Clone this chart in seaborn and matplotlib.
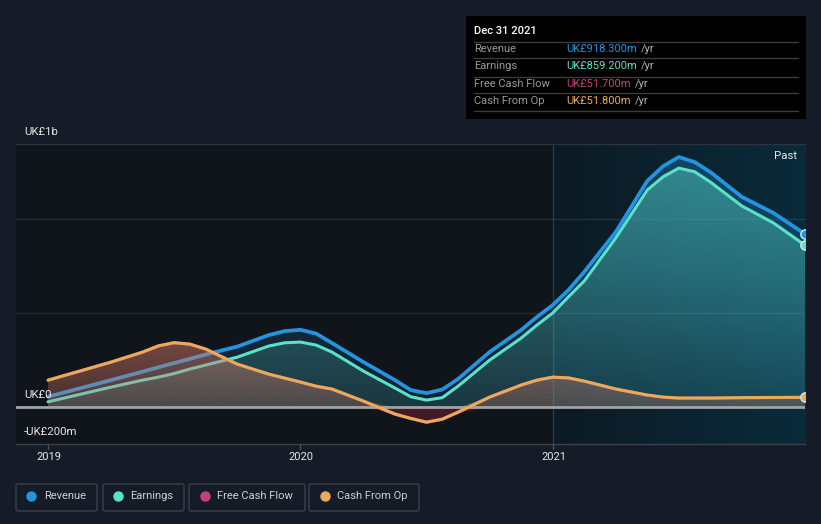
import numpy as np
import pandas as pd
import matplotlib
matplotlib.use("Agg")
import matplotlib.pyplot as plt
import seaborn as sns
from matplotlib.patches import Rectangle, FancyBboxPatch
from matplotlib.lines import Line2D
from matplotlib.transforms import IdentityTransform
from matplotlib.colors import to_rgb

# ---------------- data (UK£ m) ----------------
dates = [2019.0, 2019.125, 2019.25, 2019.375, 2019.4375, 2019.5, 2019.5625, 2019.625,
         2019.75, 2019.875, 2019.9375, 2020.0, 2020.0625, 2020.125, 2020.25, 2020.375,
         2020.4375, 2020.5, 2020.5625, 2020.625, 2020.75, 2020.875, 2020.9375, 2021.0,
         2021.0625, 2021.125, 2021.25, 2021.375, 2021.4375, 2021.5, 2021.5625, 2021.625,
         2021.75, 2021.875, 2022.0]
revenue = [55, 99, 143, 188, 211, 234, 256, 279,
           321, 382, 403, 410, 390, 340, 239, 143,
           90, 74, 93, 149, 292, 409, 478, 541,
           621, 717, 929, 1200, 1278, 1327, 1300, 1247,
           1115, 1030, 918.3]
earnings = [28, 67, 106, 143, 159, 178, 202, 223,
            265, 324, 341, 345, 329, 292, 191, 101,
            55, 37, 50, 111, 249, 366, 435, 499,
            585, 669, 897, 1152, 1222, 1268, 1249, 1194,
            1067, 977, 859.2]
cash_from_op = [143, 191, 239, 292, 325, 342, 334, 308,
                228, 175, 154, 133, 111, 96, 32, -37,
                -60, -80, -64, -27, 53, 117, 143, 159,
                155, 138, 96, 64, 53, 48, 48, 48,
                50, 51, 51.8]
free_cash_flow = [142, 190, 238, 291, 324, 341, 333, 307,
                  227, 174, 153, 132, 110, 95, 31, -38,
                  -61, -81, -65, -28, 52, 116, 142, 158,
                  154, 137, 95, 63, 52, 47, 47, 47,
                  49, 50, 51.7]

series_names = ["Revenue", "Earnings", "Free Cash Flow", "Cash From Op"]
series_colors = ["#2394df", "#5ce1c9", "#c2407e", "#e9ab5a"]
tooltip_values = ["UK£918.300m", "UK£859.200m", "UK£51.700m", "UK£51.800m"]
tooltip_date = "Dec 31 2021"
year_ticks = [2019, 2020, 2021]
year_labels = ["2019", "2020", "2021"]

BG = "#161c27"
W, H = 821, 524

sns.set_theme(style="dark")
plt.rcParams["font.family"] = ["Roboto", "DejaVu Sans"]

fig = plt.figure(figsize=(W / 100, H / 100), dpi=100, facecolor=BG)
ax = fig.add_axes([16 / W, 80 / H, 789 / W, 300 / H])
ax.set_facecolor("#10141b")

YMIN, YMAX = -196, 1396
XMIN, XMAX = 2018.873, 2022.0

# past region gradient background
grad = np.zeros((2, 256, 3))
c0, c1 = np.array(to_rgb("#0c1a24")), np.array(to_rgb("#0a2b3a"))
for i, t in enumerate(np.linspace(0, 1, 256)):
    grad[:, i, :] = c0 * (1 - t) + c1 * t
ax.imshow(grad, extent=[2021, XMAX, YMIN, YMAX], aspect="auto", zorder=0.2,
          interpolation="bilinear")


def grad_fill(x, y, color, a_top, a_bot, z):
    x = np.asarray(x, float)
    y = np.asarray(y, float)
    poly = ax.fill_between(x, y, 0, facecolor="none", edgecolor="none", lw=0)
    n = 256
    img = np.zeros((n, 1, 4))
    img[..., :3] = to_rgb(color)
    img[..., 3] = np.linspace(a_bot, a_top, n)[:, None]
    im = ax.imshow(img, extent=[x.min(), x.max(), 0, y.max()], origin="lower",
                   aspect="auto", zorder=z, interpolation="bilinear")
    im.set_clip_path(poly.get_paths()[0], ax.transData)


line_kw = dict(solid_joinstyle="round", solid_capstyle="round")

# grid
for v in [500, 1000]:
    ax.axhline(v, color="white", alpha=0.09, lw=1, zorder=1)
ax.axvline(2021, color="#1f3e4c", lw=1, zorder=0.5)

# revenue
grad_fill(dates, revenue, series_colors[0], 0.30, 0.10, 2)
sns.lineplot(x=dates, y=revenue, color=series_colors[0], lw=2.7, ax=ax, zorder=2.5, **line_kw)
# earnings
grad_fill(dates, earnings, series_colors[1], 0.44, 0.12, 3)
sns.lineplot(x=dates, y=earnings, color=series_colors[1], lw=2.2, ax=ax, zorder=3.5, **line_kw)
# free cash flow (under cash from op)
fcf = np.asarray(free_cash_flow, float)
grad_fill(dates, np.maximum(fcf, 0), series_colors[2], 0.30, 0.12, 4)
ax.fill_between(dates, np.minimum(fcf, 0), 0, color="#6a1f30", alpha=0.55, lw=0, zorder=4)
sns.lineplot(x=dates, y=free_cash_flow, color=series_colors[2], lw=2.2, ax=ax, zorder=4.5,
             **line_kw)
# cash from op
cfo = np.asarray(cash_from_op, float)
grad_fill(dates, np.maximum(cfo, 0), series_colors[3], 0.28, 0.16, 5)
ax.axhline(0, color="#a3a3a3", lw=2, zorder=5.2)
sns.lineplot(x=dates, y=cash_from_op, color=series_colors[3], lw=2.2, ax=ax, zorder=5.5,
             **line_kw)

# end dots
for vals, col in [(revenue, series_colors[0]), (earnings, series_colors[1]),
                  (cash_from_op, series_colors[3])]:
    ax.scatter([dates[-1]], [vals[-1]], s=45, color=col, edgecolor="#d8e8ee",
               lw=1, zorder=10)

ax.set_xlim(XMIN, XMAX)
ax.set_ylim(YMIN, YMAX)
ax.set_xticks([])
ax.set_yticks([])
ax.set_xlabel("")
ax.set_ylabel("")
ax.grid(False)
for s in ["left", "right"]:
    ax.spines[s].set_visible(False)
ax.spines["top"].set_color("#2e333d")
ax.spines["top"].set_linewidth(1)
ax.spines["bottom"].set_color("#3b404a")
ax.spines["bottom"].set_linewidth(1)

idt = IdentityTransform()


def px(x, y):
    return x, H - y


def ptext(x, y, s, **kw):
    X, Y = px(x, y)
    kw.setdefault("va", "center")
    return fig.text(X, Y, s, transform=idt, **kw)


# x tick marks and labels
for yv, lab in zip(year_ticks, year_labels):
    xd = ax.transData.transform((yv, 0))[0]
    fig.add_artist(Line2D([xd, xd], [H - 444, H - 449], color="#4a4f58", lw=1,
                          transform=idt))
    ptext(xd + 1, 457, lab, ha="center", color="#e6e6e6", fontsize=8)

# y labels
ptext(24, 132, "UK£1b", color="#e6e6e6", fontsize=8.2)
ptext(24, 395, "UK£0", color="#e6e6e6", fontsize=8.2)
ptext(24, 432, "-UK£200m", color="#e6e6e6", fontsize=8.2)
ptext(797, 156, "Past", color="#e6e6e6", fontsize=8.2, ha="right")

# tooltip
fig.add_artist(Rectangle(px(466, 119), 340, 103, facecolor="black", edgecolor="none",
                         transform=idt))
ptext(474, 31, tooltip_date, color="white", fontsize=8, fontweight="medium")
for yy in [41.7, 58.3, 76.7, 93.3, 111]:
    fig.add_artist(Line2D([474, 798], [H - yy, H - yy], color="#3c3c3c", lw=1,
                          transform=idt))
renderer = fig.canvas.get_renderer()
for i, (name, col, val) in enumerate(zip(series_names, series_colors, tooltip_values)):
    yy = [49.3, 66, 84, 100.7][i]
    ptext(474, yy, name, color="#9a9a9a", fontsize=8)
    t = ptext(566, yy, val, color=col, fontsize=8)
    bb = t.get_window_extent(renderer)
    fig.text(bb.x1 + 4, H - yy, "/yr", transform=idt, color="#b5b5b5", fontsize=8,
             va="center")

# legend boxes
boxes = [(16, 97), (103, 184), (189, 305), (309, 419)]
dots = [31.4, 117.8, 204.7, 324.6]
for (x0, x1), dx, name, col in zip(boxes, dots, series_names, series_colors):
    fig.add_artist(FancyBboxPatch((x0, H - 511), x1 - x0, 27,
                                  boxstyle="round,pad=0,rounding_size=2",
                                  facecolor="none", edgecolor="#3a3f4a", lw=1,
                                  transform=idt))
    fig.add_artist(Line2D([dx], [H - 496], marker="o", markersize=6.5, color=col,
                          lw=0, transform=idt))
    ptext(dx + 12.5, 496, name, color="#cfcfcf", fontsize=8)

fig.savefig("out.png", dpi=100, facecolor=BG)
